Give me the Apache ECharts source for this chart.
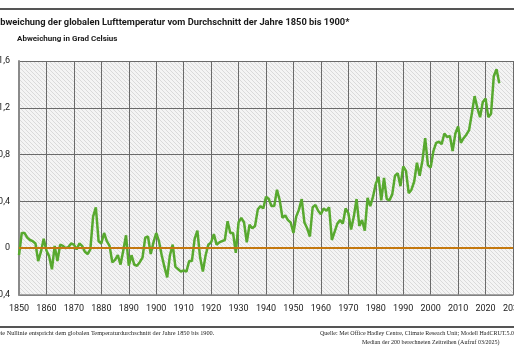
<!DOCTYPE html>
<html>
<head>
<meta charset="utf-8">
<script src="https://cdn.jsdelivr.net/npm/echarts@6/dist/echarts.min.js"></script>
<style>
  html, body { margin: 0; padding: 0; background: #fff; }
  #chart { width: 514px; height: 352px; }
</style>
</head>
<body>
<div id="chart"></div>
<script>
// Jahre und Abweichung (Grad Celsius) gegenüber 1850-1900
var years = [];
for (var y = 1850; y <= 2025; y++) years.push(y);

var anomaly = [
    -0.06, 0.13, 0.13, 0.09, 0.07, 0.06, 0.04, -0.11, -0.03, 0.08,   // 1850-1859
    -0.02, -0.07, -0.18, 0.02, -0.11, 0.03, 0.02, 0.00, 0.01, 0.04,  // 1860-1869
    0.03, -0.01, 0.04, 0.02, -0.03, -0.05, -0.01, 0.27, 0.35, 0.06,  // 1870-1879
    0.04, 0.13, 0.06, 0.02, -0.12, -0.10, -0.06, -0.14, -0.02, 0.11, // 1880-1889
    -0.15, -0.06, -0.14, -0.15, -0.12, -0.08, 0.09, 0.10, -0.05, 0.05, // 1890-1899
    0.13, 0.06, -0.06, -0.16, -0.25, -0.06, 0.03, -0.16, -0.18, -0.20, // 1900-1909
    -0.19, -0.20, -0.11, -0.11, 0.08, 0.15, -0.08, -0.20, -0.06, 0.03, // 1910-1919
    0.05, 0.12, 0.03, 0.05, 0.06, 0.07, 0.23, 0.13, 0.13, -0.04,     // 1920-1929
    0.22, 0.26, 0.22, 0.05, 0.20, 0.17, 0.19, 0.33, 0.36, 0.34,      // 1930-1939
    0.44, 0.42, 0.36, 0.36, 0.50, 0.41, 0.26, 0.28, 0.24, 0.22,      // 1940-1949
    0.13, 0.27, 0.33, 0.42, 0.22, 0.17, 0.10, 0.35, 0.37, 0.32,      // 1950-1959
    0.29, 0.34, 0.32, 0.35, 0.07, 0.14, 0.21, 0.24, 0.21, 0.34,      // 1960-1969
    0.30, 0.16, 0.27, 0.42, 0.19, 0.24, 0.15, 0.43, 0.36, 0.44,      // 1970-1979
    0.55, 0.61, 0.41, 0.60, 0.42, 0.41, 0.46, 0.62, 0.64, 0.53,      // 1980-1989
    0.70, 0.66, 0.47, 0.50, 0.57, 0.73, 0.62, 0.75, 0.94, 0.71,      // 1990-1999
    0.69, 0.83, 0.90, 0.91, 0.89, 0.98, 0.95, 0.96, 0.83, 0.98,      // 2000-2009
    1.04, 0.90, 0.94, 0.97, 1.01, 1.15, 1.30, 1.20, 1.12, 1.25,      // 2010-2019
    1.28, 1.12, 1.15, 1.47, 1.53, 1.41                               // 2020-2025
];

var yTicks = [-0.4, 0, 0.4, 0.8, 1.2, 1.6];

function makeHatch() {
    var c = document.createElement('canvas');
    c.width = 4;
    c.height = 4;
    var ctx = c.getContext('2d');
    ctx.fillStyle = '#f4f4f4';
    ctx.fillRect(0, 0, 4, 4);
    ctx.strokeStyle = '#dadada';
    ctx.lineWidth = 1;
    ctx.beginPath();
    ctx.moveTo(0, 0); ctx.lineTo(4, 4);
    ctx.moveTo(-1, 3); ctx.lineTo(1, 5);
    ctx.moveTo(3, -1); ctx.lineTo(5, 1);
    ctx.stroke();
    return c;
}

var chartDom = document.getElementById('chart');
var myChart = echarts.init(chartDom);

var sans = 'Roboto, sans-serif';

var option = {
    animation: false,
    backgroundColor: '#fff',
    grid: {
        left: 19,
        right: 1,
        top: 61,
        bottom: 57,
        containLabel: false,
        outerBoundsMode: 'none',
        show: true,
        borderWidth: 0,
        backgroundColor: { image: makeHatch(), repeat: 'repeat' }
    },
    title: [{
        text: 'Abweichung der globalen Lufttemperatur vom Durchschnitt der Jahre 1850 bis 1900*',
        left: -6,
        top: 18,
        padding: 0,
        textStyle: { fontFamily: sans, fontSize: 9.3, fontWeight: 'bold', color: '#1a1a1a' }
    }, {
        text: 'Abweichung in Grad Celsius',
        left: 17,
        top: 35,
        padding: 0,
        textStyle: { fontFamily: sans, fontSize: 8, fontWeight: 'bold', color: '#1a1a1a' }
    }],
    xAxis: {
        type: 'value',
        min: 1850,
        max: 2030,
        interval: 10,
        axisLine: { show: true, onZero: false, lineStyle: { color: '#8a8a8a', width: 1.5 } },
        axisTick: { show: false },
        splitLine: { show: true, lineStyle: { color: '#6a6a6a', width: 1 } },
        axisLabel: {
            margin: 9,
            fontFamily: sans,
            fontSize: 9,
            color: '#222',
            formatter: function (v) { return String(v); }
        }
    },
    yAxis: {
        type: 'value',
        min: yTicks[0],
        max: yTicks[yTicks.length - 1],
        interval: 0.4,
        axisLine: { show: true, lineStyle: { color: '#8a8a8a', width: 2 } },
        axisTick: { show: false },
        splitLine: { show: true, lineStyle: { color: '#6a6a6a', width: 1 } },
        axisLabel: {
            margin: 9,
            fontFamily: sans,
            fontSize: 9,
            color: '#222',
            formatter: function (v) {
                if (Math.abs(v) < 1e-9) return '0';
                return (v < 0 ? '–' : '') + Math.abs(v).toFixed(1).replace('.', ',');
            }
        }
    },
    series: [{
        name: 'Abweichung',
        type: 'line',
        data: years.map(function (yr, i) { return [yr, anomaly[i]]; }),
        showSymbol: false,
        z: 3,
        lineStyle: { color: '#58a92f', width: 2.5 }
    }, {
        name: 'Nulllinie',
        type: 'line',
        data: [],
        z: 4,
        markLine: {
            silent: true,
            symbol: 'none',
            label: { show: false },
            lineStyle: { color: '#c4780f', width: 2.2, type: 'solid' },
            data: [{ yAxis: 0 }]
        }
    }],
    graphic: [
        { type: 'rect', shape: { x: 0, y: 8, width: 514, height: 2 }, style: { fill: '#555' } },
        { type: 'rect', shape: { x: 0, y: 326, width: 514, height: 2 }, style: { fill: '#555' } },
        {
            type: 'text', left: -4, top: 330,
            style: {
                text: 'Die Nullinie entspricht dem globalen Temperaturdurchschnitt der Jahre 1850 bis 1900.',
                font: '6.3px "Liberation Serif", serif', fill: '#222'
            }
        },
        {
            type: 'text', left: 320, top: 330,
            style: {
                text: 'Quelle: Met Office Hadley Centre, Climate Reseach Unit; Modell HadCRUT.5.0.2.0',
                font: '6px "Liberation Serif", serif', fill: '#222'
            }
        },
        {
            type: 'text', left: 362, top: 339,
            style: {
                text: 'Median der 200 berechneten Zeitreihen (Aufruf 03/2025)',
                font: '6px "Liberation Serif", serif', fill: '#222'
            }
        }
    ]
};

myChart.setOption(option);
</script>
</body>
</html>
